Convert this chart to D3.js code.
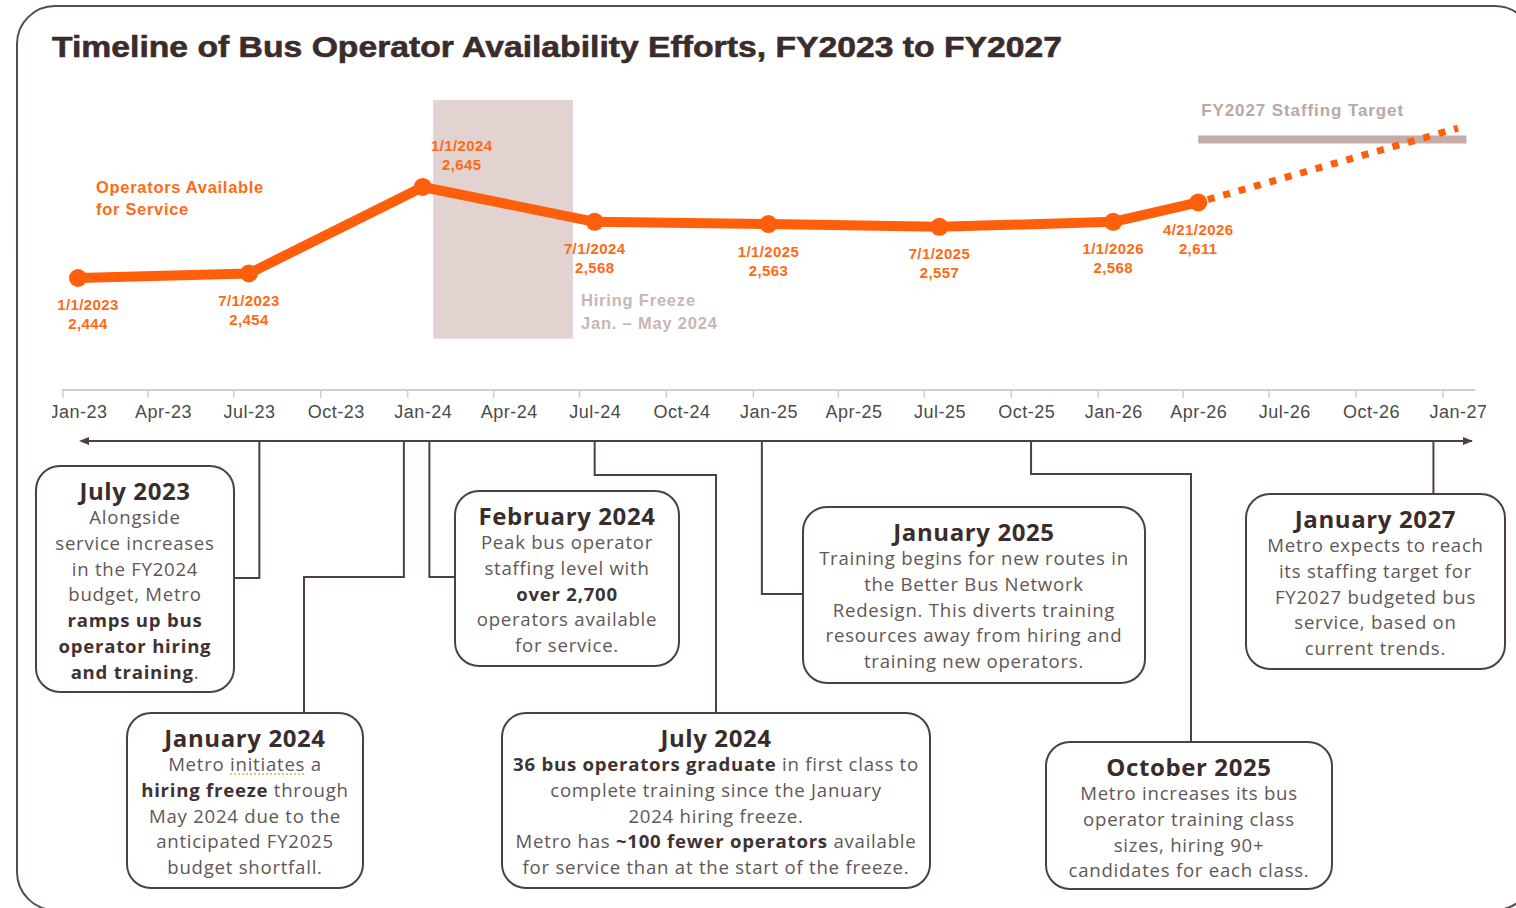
<!DOCTYPE html>
<html>
<head>
<meta charset="utf-8">
<script src="https://cdn.jsdelivr.net/npm/d3@7"></script>
<style>
  html, body { margin: 0; padding: 0; background: #ffffff; }
  svg { display: block; }
</style>
</head>
<body>
<svg id="chart" width="1516" height="908"></svg>
<script>
// ---------------- DATA ----------------
const chartTitle = "Timeline of Bus Operator Availability Efforts, FY2023 to FY2027";
const pointDates = ["2023-01-01","2023-07-01","2024-01-01","2024-07-01","2025-01-01","2025-07-01","2026-01-01","2026-04-21"];
const operators  = [2444, 2454, 2645, 2568, 2563, 2557, 2568, 2611];
const projectionDates  = ["2026-04-21", "2027-01-01"];
const projectionValues = [2611, 2775];
const targetDates = ["2026-04-01", "2027-01-10"];
const targetValue = 2750;
const freezeDates  = ["2024-01-12", "2024-06-08"];
const freezeValues = [2310, 2837];
const axisDomain = ["2023-01-01", "2027-01-01"];
const yDomain = [2300, 2800];
const seriesLabel = ["Operators Available", "for Service"];
const freezeLabel = ["Hiring Freeze", "Jan. \u2013 May 2024"];
const targetLabel = "FY2027 Staffing Target";

const eventTitles = ["July 2023","January 2024","February 2024","July 2024","January 2025","October 2025","January 2027"];
const eventAnchors = ["2023-07-12","2023-12-12","2024-01-08","2024-07-01","2024-12-25","2025-10-06","2026-12-06"];
const eventLines = [
  ["Alongside","service increases","in the FY2024","budget, Metro","**ramps up bus**","**operator hiring**","**and training**."],
  ["Metro __initiates__ a","**hiring freeze** through","May 2024 due to the","anticipated FY2025","budget shortfall."],
  ["Peak bus operator","staffing level with","**over 2,700**","operators available","for service."],
  ["**36 bus operators graduate** in first class to","complete training since the January","2024 hiring freeze.","Metro has **~100 fewer operators** available","for service than at the start of the freeze."],
  ["Training begins for new routes in","the Better Bus Network","Redesign. This diverts training","resources away from hiring and","training new operators."],
  ["Metro increases its bus","operator training class","sizes, hiring 90+","candidates for each class."],
  ["Metro expects to reach","its staffing target for","FY2027 budgeted bus","service, based on","current trends."]
];

// ---------------- LAYOUT (positions / styles) ----------------
const ORANGE = "#FF5F0A", ORANGE_TXT = "#FF6A14", DARK = "#3b2c2c", LINE = "#4e4040";
const labelDx = [10, 0, 39, 0, 0, 0, 0, 0];
const labelAbove = [false, false, true, false, false, false, false, false];
const boxes = [
  {x:36,  y:466, w:198, h:226},
  {x:127, y:713, w:236, h:175},
  {x:455, y:491, w:224, h:175},
  {x:502, y:713, w:428, h:175},
  {x:803, y:507, w:342, h:176},
  {x:1046,y:742, w:286, h:147},
  {x:1246,y:494, w:259, h:175}
];
const TL_Y = 441;
const routes = [
  [[null,TL_Y],[null,578],[234,578]],
  [[null,TL_Y],[null,577],[304,577],[304,713]],
  [[null,TL_Y],[null,577],[455,577]],
  [[null,TL_Y],[null,475],[716,475],[716,713]],
  [[null,TL_Y],[null,594],[803,594]],
  [[null,TL_Y],[null,474],[1191,474],[1191,742]],
  [[null,TL_Y],[null,494]]
];

const parse = d3.timeParse("%Y-%m-%d");
const svg = d3.select("#chart");

const defs = svg.append("defs");
defs.append("clipPath").attr("id","axisClip").append("rect")
  .attr("x",52).attr("y",380).attr("width",1434).attr("height",60);
["arrowEnd","arrowStart"].forEach((id,i)=>{
  defs.append("marker").attr("id",id).attr("viewBox","0 0 10 10")
    .attr("refX", i===0 ? 9 : 1).attr("refY",5)
    .attr("markerWidth",5).attr("markerHeight",5).attr("orient","auto-start-reverse")
    .append("path").attr("d","M0,1 L10,5 L0,9 Z").attr("fill",LINE);
});

// outer frame
svg.append("rect").attr("x",17).attr("y",6).attr("width",1516).attr("height",904)
  .attr("rx",38).attr("fill","none").attr("stroke","#5a4a4a").attr("stroke-width",2);

// title
svg.append("text").attr("x",52).attr("y",57)
  .attr("font-family","Liberation Sans, Arial, sans-serif").attr("font-weight","bold")
  .attr("font-size",30).attr("fill",DARK).attr("stroke",DARK).attr("stroke-width",0.6)
  .attr("textLength",1010).attr("lengthAdjust","spacingAndGlyphs")
  .text(chartTitle);

// scales (monthly base unit: a date is plotted at the start of its month)
const xt = d3.scaleTime().domain(axisDomain.map(parse)).range([78, 1458]);
const x = d => xt(d3.timeMonth.floor(d));
const y = d3.scaleLinear().domain(yDomain).range([343.2, 116.8]);

// hiring freeze band
svg.append("rect")
  .attr("x", xt(parse(freezeDates[0]))).attr("width", xt(parse(freezeDates[1])) - xt(parse(freezeDates[0])))
  .attr("y", y(freezeValues[1])).attr("height", y(freezeValues[0]) - y(freezeValues[1]))
  .attr("fill","#e2d3d1");

const boldFont = "Liberation Sans, Arial, sans-serif";
svg.append("g").selectAll("text").data(freezeLabel).join("text")
  .attr("x", xt(parse(freezeDates[1])) + 8).attr("y",(d,i)=>300 + i*23)
  .attr("dominant-baseline","central")
  .attr("font-family",boldFont).attr("font-weight","bold").attr("font-size",16.5)
  .attr("letter-spacing",0.8)
  .attr("fill","#c9b6b2").text(d=>d);

// target line
svg.append("line")
  .attr("x1", xt(parse(targetDates[0]))).attr("x2", xt(parse(targetDates[1])))
  .attr("y1", y(targetValue)).attr("y2", y(targetValue))
  .attr("stroke","#c5aca6").attr("stroke-width",8);
svg.append("text").attr("x", xt(parse(targetDates[0])) + 3).attr("y", 110)
  .attr("dominant-baseline","central")
  .attr("font-family",boldFont).attr("font-weight","bold").attr("font-size",17)
  .attr("letter-spacing",0.9)
  .attr("fill","#bba7a3").text(targetLabel);

// projection (dotted)
const projData = projectionDates.map((d,i)=>({d:parse(d), v:projectionValues[i]}));
svg.append("path").datum(projData)
  .attr("d", d3.line().x(d=>x(d.d)).y(d=>y(d.v)))
  .attr("fill","none").attr("stroke",ORANGE).attr("stroke-width",7)
  .attr("stroke-dasharray","7,9").attr("stroke-dashoffset",-10);

// main series
const pts = pointDates.map((d,i)=>({d:parse(d), v:operators[i], i}));
svg.append("path").datum(pts)
  .attr("d", d3.line().x(d=>x(d.d)).y(d=>y(d.v)))
  .attr("fill","none").attr("stroke",ORANGE).attr("stroke-width",10)
  .attr("stroke-linejoin","round").attr("stroke-linecap","round");
svg.append("g").selectAll("circle").data(pts).join("circle")
  .attr("cx",d=>x(d.d)).attr("cy",d=>y(d.v)).attr("r",9).attr("fill",ORANGE);

// point labels
const fDate = d3.timeFormat("%-m/%-d/%Y"), fNum = d3.format(",");
const lg = svg.append("g").attr("font-family",boldFont).attr("font-weight","bold")
  .attr("font-size",15).attr("letter-spacing",0.4).attr("fill",ORANGE_TXT).attr("text-anchor","middle");
pts.forEach(p=>{
  const cx = x(p.d) + labelDx[p.i], cy = y(p.v);
  const y0 = labelAbove[p.i] ? cy - 41 : cy + 27;
  lg.append("text").attr("x",cx).attr("y",y0).attr("dominant-baseline","central").text(fDate(p.d));
  lg.append("text").attr("x",cx).attr("y",y0+19).attr("dominant-baseline","central").text(fNum(p.v));
});

// series label
svg.append("g").selectAll("text").data(seriesLabel).join("text")
  .attr("x",96).attr("y",(d,i)=>187 + i*22).attr("dominant-baseline","central")
  .attr("font-family",boldFont).attr("font-weight","bold").attr("font-size",16.5)
  .attr("letter-spacing",0.7)
  .attr("fill",ORANGE_TXT).text(d=>d);

// axis
const AX_Y = 390;
const tickDates = xt.ticks(d3.timeMonth.every(3));
svg.append("line").attr("x1",62).attr("x2",1475).attr("y1",AX_Y).attr("y2",AX_Y)
  .attr("stroke","#cfcfcf").attr("stroke-width",2);
svg.append("g").selectAll("line").data(tickDates).join("line")
  .attr("x1",d=>xt(d3.timeDay.offset(d,-16))).attr("x2",d=>xt(d3.timeDay.offset(d,-16)))
  .attr("y1",AX_Y).attr("y2",AX_Y+8).attr("stroke","#cfcfcf").attr("stroke-width",1.5);
const axis = d3.axisBottom(xt).tickValues(tickDates).tickFormat(d3.timeFormat("%b-%y")).tickSize(0).tickPadding(0);
const axGroup = svg.append("g").attr("clip-path","url(#axisClip)")
  .append("g").attr("transform",`translate(0,${AX_Y+15})`).call(axis);
axGroup.select(".domain").remove();
axGroup.selectAll("text").attr("font-family","Liberation Sans, Arial, sans-serif")
  .attr("font-size",18).attr("letter-spacing",0.5).attr("fill","#4a4a4a");

// timeline arrow
svg.append("line").attr("x1",88).attr("x2",1472).attr("y1",TL_Y).attr("y2",TL_Y)
  .attr("stroke",LINE).attr("stroke-width",2)
  .attr("marker-start","url(#arrowStart)").attr("marker-end","url(#arrowEnd)");

// connectors
eventAnchors.forEach((a,i)=>{
  const ax = xt(parse(a));
  const ptsR = routes[i].map(([px,py])=>[px===null?ax:px, py]);
  svg.append("path").attr("d", d3.line()(ptsR)).attr("fill","none")
    .attr("stroke",LINE).attr("stroke-width",2);
});

// boxes
const bodyFont = "Open Sans, Noto Sans, sans-serif";
function parseSegs(line){
  const segs = [];
  const re = /(\*\*[^*]+\*\*|__[^_]+__)/g;
  let last = 0, m;
  while((m = re.exec(line))){
    if(m.index > last) segs.push({t:line.slice(last,m.index), b:false, u:false});
    const s = m[0];
    if(s.startsWith("**")) segs.push({t:s.slice(2,-2), b:true, u:false});
    else segs.push({t:s.slice(2,-2), b:false, u:true});
    last = m.index + s.length;
  }
  if(last < line.length) segs.push({t:line.slice(last), b:false, u:false});
  return segs;
}
eventTitles.forEach((title,i)=>{
  const b = boxes[i];
  const g = svg.append("g");
  g.append("rect").attr("x",b.x).attr("y",b.y).attr("width",b.w).attr("height",b.h)
    .attr("rx",24).attr("fill","#fff").attr("stroke",LINE).attr("stroke-width",2);
  const cx = b.x + b.w/2;
  g.append("text").attr("x",cx).attr("y",b.y+24).attr("text-anchor","middle")
    .attr("dominant-baseline","central").attr("font-family",bodyFont).attr("font-weight","bold")
    .attr("font-size",24).attr("letter-spacing",0.6).attr("fill",DARK).text(title);
  eventLines[i].forEach((line,j)=>{
    const t = g.append("text").attr("x",cx).attr("y",b.y+50+j*25.8).attr("text-anchor","middle")
      .attr("dominant-baseline","central").attr("font-family",bodyFont).attr("font-size",18.6)
      .attr("letter-spacing",0.75)
      .attr("fill","#625656");
    const segs = parseSegs(line);
    let charIdx = 0; const underl = [];
    segs.forEach(s=>{
      t.append("tspan").attr("font-weight", s.b ? "bold" : null).attr("fill", s.b ? "#3f3232" : null).text(s.t);
      if(s.u) underl.push([charIdx, charIdx + s.t.length - 1]);
      charIdx += s.t.length;
    });
    underl.forEach(([s0,s1])=>{
      const node = t.node();
      const p0 = node.getStartPositionOfChar(s0), p1 = node.getEndPositionOfChar(s1);
      g.append("line").attr("x1",p0.x).attr("x2",p1.x)
        .attr("y1",b.y+50+j*25.8+11).attr("y2",b.y+50+j*25.8+11)
        .attr("stroke","#c9b45a").attr("stroke-width",1.5).attr("stroke-dasharray","2,2");
    });
  });
});
</script>
</body>
</html>
